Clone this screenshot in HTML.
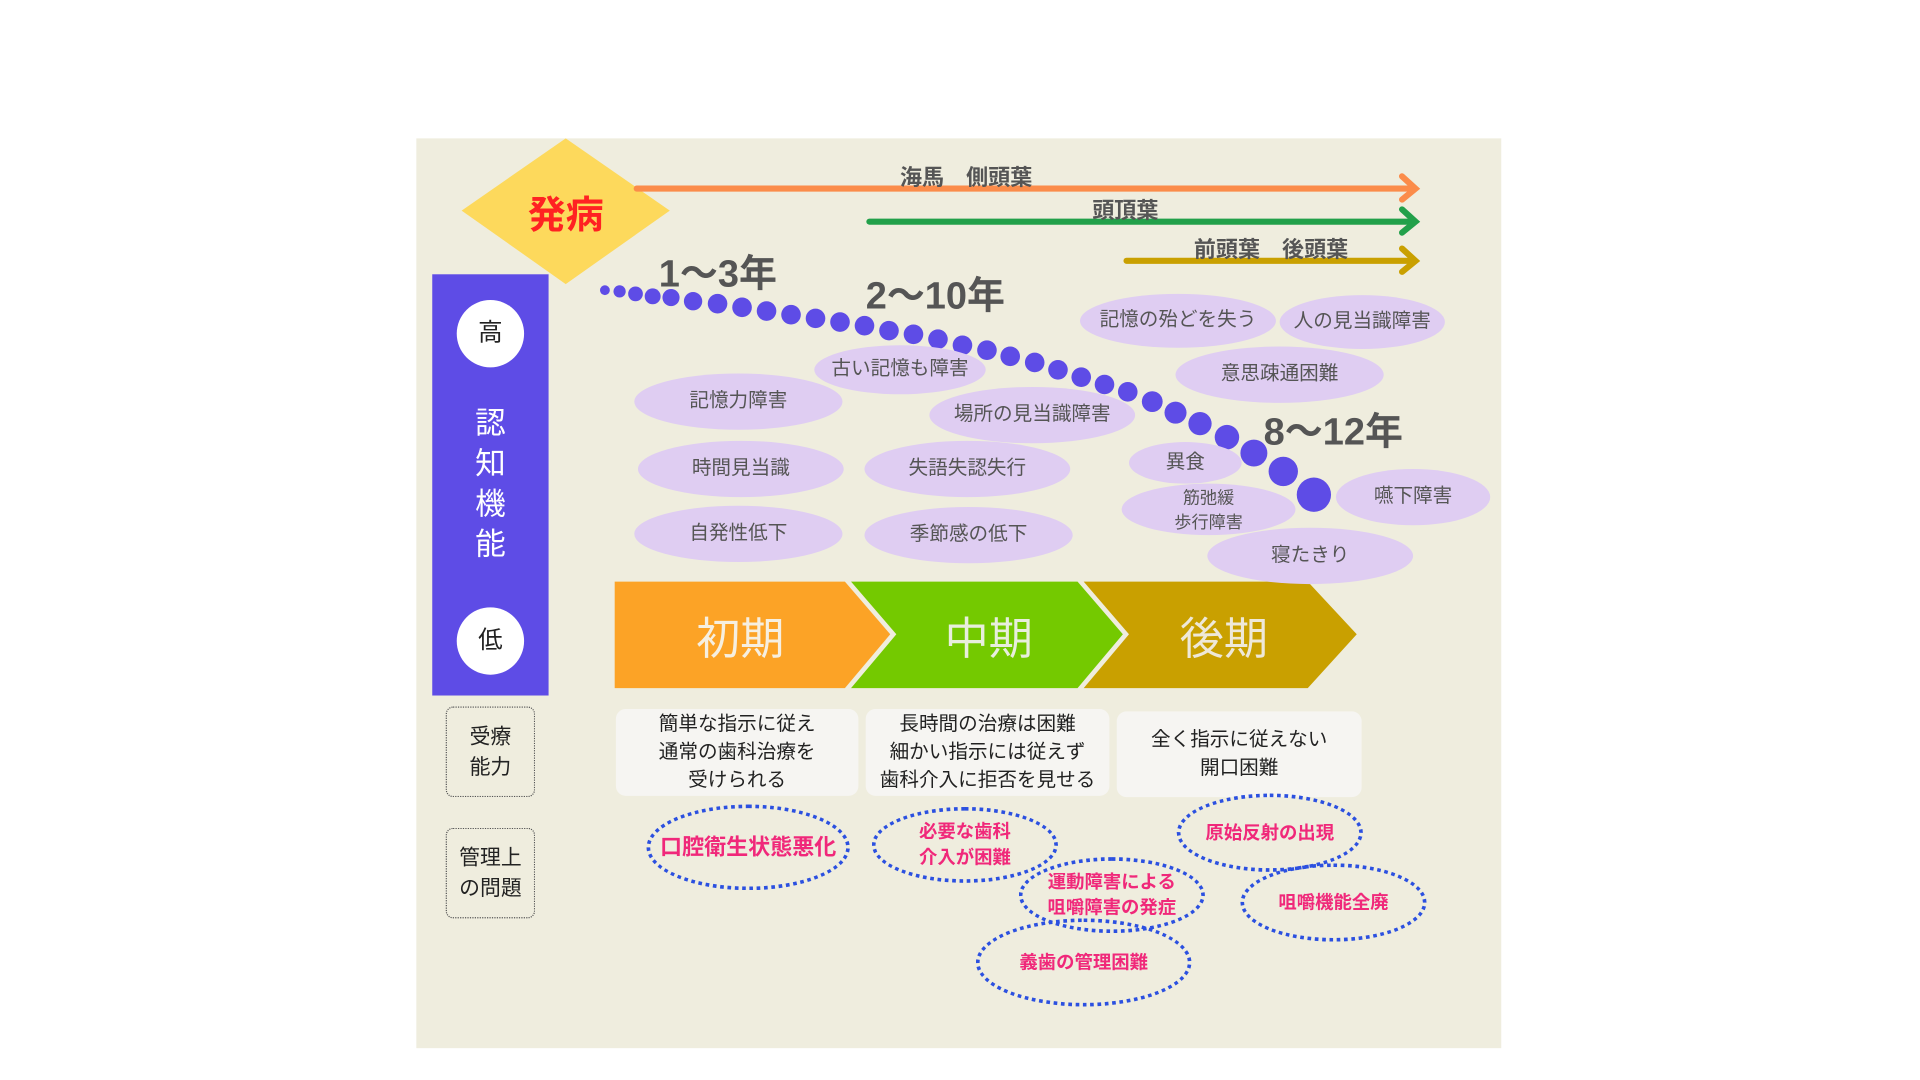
<!DOCTYPE html>
<html><head><meta charset="utf-8"><style>
html,body{margin:0;padding:0;background:#fff;width:1920px;height:1080px;overflow:hidden}
#w{position:absolute;left:0;top:0;width:1568px;height:882px;transform:scale(1.2245);transform-origin:0 0;font-family:"Liberation Sans","Noto Sans CJK JP",sans-serif}
.a{position:absolute}
.el{position:absolute;border-radius:50%;background:#dfcdf2;color:#555;font-size:16px;display:flex;align-items:center;justify-content:center;text-align:center;line-height:20px}
.de{position:absolute;border-radius:50%;border:3px dotted #2b50e0;color:#f0287a;font-weight:bold;font-size:15px;display:flex;align-items:center;justify-content:center;text-align:center;line-height:21px;box-sizing:border-box}
.bx{position:absolute;background:#f6f5f2;border-radius:8px;font-size:16px;color:#222;text-align:center;line-height:23px;display:flex;align-items:center;justify-content:center}
.lb{position:absolute;border:1.5px dotted #555;border-radius:6px;font-size:17px;color:#222;text-align:center;line-height:25px;display:flex;align-items:center;justify-content:center;box-sizing:border-box}
.yr{position:absolute;font-weight:bold;font-size:31px;color:#555}
.al{position:absolute;font-weight:bold;font-size:18px;color:#555}
</style></head><body><div id="w">
<div class="a" style="left:340px;top:113px;width:886px;height:743px;background:#efedde"></div>
<svg class="a" style="left:0;top:0" width="1568" height="882">
<polygon points="462,113 547,172 462,232 377,172" fill="#fdd95c"/>
<g stroke-width="5" fill="none" stroke-linecap="round">
<line x1="520" y1="154" x2="1155" y2="154" stroke="#fb8c4a"/><polyline points="1145,144 1156,154 1145,163" stroke="#fb8c4a"/>
<line x1="710" y1="181" x2="1155" y2="181" stroke="#22a04a"/><polyline points="1145,171 1156,181 1145,190" stroke="#22a04a"/>
<line x1="920" y1="213" x2="1155" y2="213" stroke="#c9a000"/><polyline points="1145,203 1156,213 1145,222" stroke="#c9a000"/>
</g>
<g fill="#5e4ce6">
<circle cx="494" cy="237" r="4"/><circle cx="506" cy="238" r="5"/><circle cx="519" cy="240" r="6"/><circle cx="533" cy="242" r="6.5"/><circle cx="548" cy="243" r="7"/><circle cx="566" cy="246" r="7.5"/><circle cx="586" cy="248" r="8"/><circle cx="606" cy="251" r="8"/><circle cx="626" cy="254" r="8"/><circle cx="646" cy="257" r="8"/><circle cx="666" cy="260" r="8"/><circle cx="686" cy="263" r="8"/><circle cx="706" cy="266" r="8"/><circle cx="726" cy="270" r="8"/><circle cx="746" cy="273" r="8"/><circle cx="766" cy="277" r="8"/><circle cx="786" cy="282" r="8"/><circle cx="806" cy="286" r="8"/><circle cx="825" cy="291" r="8"/><circle cx="845" cy="296" r="8"/><circle cx="864" cy="302" r="8"/><circle cx="883" cy="308" r="8"/><circle cx="902" cy="314" r="8"/><circle cx="921" cy="320" r="8"/><circle cx="941" cy="328" r="8.5"/><circle cx="960" cy="337" r="9"/><circle cx="980" cy="346" r="9.5"/><circle cx="1002" cy="357" r="10"/><circle cx="1024" cy="370" r="11"/><circle cx="1048" cy="385" r="12"/><circle cx="1073" cy="404" r="14"/>
</g>
<polygon points="502,475 690,475 727,518 690,562 502,562" fill="#fca326"/>
<polygon points="695,475 880,475 917,518 880,562 695,562 732,518" fill="#74c900"/>
<polygon points="885,475 1068,475 1108,518 1068,562 885,562 922,518" fill="#c9a000"/>
</svg>
<div class="a" style="left:377px;top:150px;width:170px;text-align:center;color:#f22;font-weight:bold;font-size:31px">発病</div>
<div class="al" style="left:735px;top:131px">海馬　側頭葉</div>
<div class="al" style="left:892px;top:158px">頭頂葉</div>
<div class="al" style="left:975px;top:190px">前頭葉　後頭葉</div>
<div class="a" style="left:353px;top:224px;width:95px;height:344px;background:#5e4ce6"></div>
<div class="a" style="left:373px;top:245px;width:55px;height:55px;border-radius:50%;background:#fff;font-size:20px;line-height:55px;text-align:center;color:#222">高</div>
<div class="a" style="left:373px;top:496px;width:55px;height:55px;border-radius:50%;background:#fff;font-size:20px;line-height:55px;text-align:center;color:#222">低</div>
<div class="a" style="left:353px;top:330px;width:95px;text-align:center;color:#fff;font-size:25px;line-height:33px">認<br>知<br>機<br>能</div>
<div class="yr" style="left:538px;top:198px">1〜3年</div>
<div class="yr" style="left:707px;top:216px">2〜10年</div>
<div class="yr" style="left:1032px;top:327px">8〜12年</div>
<div class="el" style="left:882px;top:240px;width:160px;height:44px">記憶の殆どを失う</div>
<div class="el" style="left:1045px;top:241px;width:135px;height:44px">人の見当識障害</div>
<div class="el" style="left:665px;top:282px;width:140px;height:40px">古い記憶も障害</div>
<div class="el" style="left:960px;top:283px;width:170px;height:46px">意思疎通困難</div>
<div class="el" style="left:518px;top:305px;width:170px;height:46px">記憶力障害</div>
<div class="el" style="left:759px;top:316px;width:168px;height:46px">場所の見当識障害</div>
<div class="el" style="left:521px;top:360px;width:168px;height:46px">時間見当識</div>
<div class="el" style="left:706px;top:360px;width:168px;height:46px">失語失認失行</div>
<div class="el" style="left:922px;top:361px;width:92px;height:34px">異食</div>
<div class="el" style="left:916px;top:395px;width:142px;height:42px;font-size:14px">筋弛緩<br>歩行障害</div>
<div class="el" style="left:1091px;top:383px;width:126px;height:46px">嚥下障害</div>
<div class="el" style="left:518px;top:413px;width:170px;height:46px">自発性低下</div>
<div class="el" style="left:706px;top:414px;width:170px;height:46px">季節感の低下</div>
<div class="el" style="left:986px;top:431px;width:168px;height:46px">寝たきり</div>
<div class="a" style="left:502px;top:493px;width:205px;text-align:center;color:#f6efe0;font-size:36px">初期</div>
<div class="a" style="left:705px;top:493px;width:205px;text-align:center;color:#e8eedd;font-size:36px">中期</div>
<div class="a" style="left:897px;top:493px;width:205px;text-align:center;color:#eee8d8;font-size:36px">後期</div>
<div class="bx" style="left:503px;top:579px;width:198px;height:71px">簡単な指示に従え<br>通常の歯科治療を<br>受けられる</div>
<div class="bx" style="left:707px;top:579px;width:199px;height:71px">長時間の治療は困難<br>細かい指示には従えず<br>歯科介入に拒否を見せる</div>
<div class="bx" style="left:912px;top:581px;width:200px;height:70px">全く指示に従えない<br>開口困難</div>
<div class="lb" style="left:364px;top:577px;width:73px;height:74px">受療<br>能力</div>
<div class="lb" style="left:364px;top:676px;width:73px;height:74px">管理上<br>の問題</div>
<div class="de" style="left:528px;top:657px;width:166px;height:70px;font-size:18px">口腔衛生状態悪化</div>
<div class="de" style="left:712px;top:659px;width:152px;height:62px">必要な歯科<br>介入が困難</div>
<div class="de" style="left:832px;top:700px;width:152px;height:62px">運動障害による<br>咀嚼障害の発症</div>
<div class="de" style="left:797px;top:750px;width:176px;height:72px">義歯の管理困難</div>
<div class="de" style="left:961px;top:648px;width:152px;height:64px">原始反射の出現</div>
<div class="de" style="left:1013px;top:705px;width:152px;height:64px">咀嚼機能全廃</div>
</div></body></html>
